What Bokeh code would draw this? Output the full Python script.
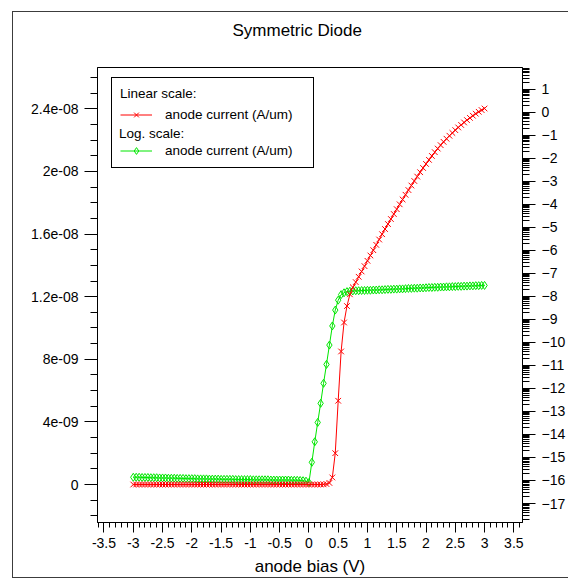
import math
from bokeh.plotting import figure
from bokeh.models import (LinearAxis, Range1d, SingleIntervalTicker, FixedTicker,
                          CustomJSTickFormatter, Legend, LegendItem, Title)
from bokeh.embed import file_html
from bokeh.resources import INLINE

FONT = "Liberation Sans"

# ---------------- data ----------------
anode_bias = [
    -3.00, -2.95, -2.90, -2.85, -2.80, -2.75, -2.70, -2.65, -2.60, -2.55,
    -2.50, -2.45, -2.40, -2.35, -2.30, -2.25, -2.20, -2.15, -2.10, -2.05,
    -2.00, -1.95, -1.90, -1.85, -1.80, -1.75, -1.70, -1.65, -1.60, -1.55,
    -1.50, -1.45, -1.40, -1.35, -1.30, -1.25, -1.20, -1.15, -1.10, -1.05,
    -1.00, -0.95, -0.90, -0.85, -0.80, -0.75, -0.70, -0.65, -0.60, -0.55,
    -0.50, -0.45, -0.40, -0.35, -0.30, -0.25, -0.20, -0.15, -0.10, -0.05,
    0.00, 0.05, 0.10, 0.15, 0.20, 0.25, 0.30, 0.35, 0.40, 0.45,
    0.50, 0.55, 0.60, 0.65, 0.70, 0.75, 0.80, 0.85, 0.90, 0.95,
    1.00, 1.05, 1.10, 1.15, 1.20, 1.25, 1.30, 1.35, 1.40, 1.45,
    1.50, 1.55, 1.60, 1.65, 1.70, 1.75, 1.80, 1.85, 1.90, 1.95,
    2.00, 2.05, 2.10, 2.15, 2.20, 2.25, 2.30, 2.35, 2.40, 2.45,
    2.50, 2.55, 2.60, 2.65, 2.70, 2.75, 2.80, 2.85, 2.90, 2.95,
    3.00,
]

# linear scale: anode current in units of 1e-9 A/um
anode_current_linear_nA = [
    0.00, 0.00, 0.00, 0.00, 0.00, 0.00, 0.00, 0.00, 0.00, 0.00,
    0.00, 0.00, 0.00, 0.00, 0.00, 0.00, 0.00, 0.00, 0.00, 0.00,
    0.00, 0.00, 0.00, 0.00, 0.00, 0.00, 0.00, 0.00, 0.00, 0.00,
    0.00, 0.00, 0.00, 0.00, 0.00, 0.00, 0.00, 0.00, 0.00, 0.00,
    0.00, 0.00, 0.00, 0.00, 0.00, 0.00, 0.00, 0.00, 0.00, 0.00,
    0.00, 0.00, 0.00, 0.00, 0.00, 0.00, 0.00, 0.00, 0.00, 0.00,
    0.00, 0.00, 0.00, 0.00, 0.00, 0.01, 0.03, 0.10, 0.45, 2.00,
    5.35, 8.50, 10.35, 11.40, 12.15, 12.60, 12.93, 13.27, 13.61, 13.95,
    14.29, 14.63, 14.97, 15.31, 15.65, 15.99, 16.32, 16.64, 16.96, 17.28,
    17.59, 17.90, 18.21, 18.51, 18.81, 19.10, 19.39, 19.67, 19.95, 20.22,
    20.48, 20.74, 20.99, 21.23, 21.46, 21.68, 21.89, 22.09, 22.28, 22.46,
    22.64, 22.81, 22.97, 23.13, 23.28, 23.42, 23.56, 23.69, 23.81, 23.92,
    24.02,
]

# log scale: log10 of anode current (A/um)
anode_current_log10 = [
    -15.86, -15.86, -15.86, -15.87, -15.87, -15.87, -15.88, -15.88, -15.88, -15.89,
    -15.89, -15.89, -15.90, -15.90, -15.90, -15.91, -15.91, -15.91, -15.92, -15.92,
    -15.92, -15.92, -15.93, -15.93, -15.93, -15.93, -15.94, -15.94, -15.94, -15.94,
    -15.95, -15.95, -15.95, -15.95, -15.95, -15.96, -15.96, -15.96, -15.96, -15.96,
    -15.96, -15.97, -15.97, -15.97, -15.97, -15.97, -15.97, -15.98, -15.98, -15.98,
    -15.98, -15.98, -15.98, -15.98, -15.99, -15.99, -15.99, -16.00, -16.01, -16.03,
    -16.09, -15.21, -14.32, -13.48, -12.65, -11.78, -10.96, -10.12, -9.29, -8.60,
    -8.17, -7.93, -7.85, -7.80, -7.78, -7.77, -7.76, -7.76, -7.75, -7.75,
    -7.74, -7.74, -7.73, -7.73, -7.72, -7.72, -7.71, -7.70, -7.70, -7.69,
    -7.69, -7.68, -7.68, -7.67, -7.66, -7.66, -7.65, -7.65, -7.64, -7.64,
    -7.63, -7.62, -7.62, -7.61, -7.61, -7.60, -7.60, -7.59, -7.59, -7.58,
    -7.58, -7.57, -7.57, -7.56, -7.56, -7.55, -7.55, -7.54, -7.54, -7.53,
    -7.53,
]

title_text = "Symmetric Diode"
x_label = "anode bias (V)"
legend_header_linear = "Linear scale:"
legend_header_log = "Log. scale:"
series_label = "anode current (A/um)"
log_decades = list(range(-17, 2))

RED = "#ff0000"
GREEN = "#00e600"
EDGE = "#3c3c3c"

# ---------------- figure ----------------
p = figure(width=568, height=578, output_backend="svg", toolbar_location=None,
           title=None,
           x_range=Range1d(-3.611, 3.648), y_range=Range1d(-2.427, 26.64),
           min_border_left=97, min_border_right=46, min_border_top=67,
           min_border_bottom=56)
# thin outer frame lines drawn behind the transparent canvas border
p.styles = {
    "background-image": (f"linear-gradient({EDGE}, {EDGE}), linear-gradient({EDGE}, {EDGE}), "
                         f"linear-gradient({EDGE}, {EDGE})"),
    "background-size": "100% 1px, 1px 100%, 100% 1px",
    "background-position": "12px 11px, 12px 11px, 12px 577px",
    "background-repeat": "no-repeat",
}
p.grid.visible = False
p.outline_line_color = "black"
p.outline_line_alpha = 1.0
p.background_fill_color = "white"
p.border_fill_alpha = 0.0

# spacer between frame and title, then the title (outermost)
p.add_layout(Title(text=" ", text_font=FONT, text_font_size="12px", standoff=7), "above")
p.add_layout(Title(text=title_text, align="left", offset=135, standoff=10,
                   text_font=FONT, text_font_size="17px", text_font_style="normal",
                   text_color="black"), "above")

p.extra_y_ranges = {"log": Range1d(-17.825, 1.934)}

def style_axis(ax, major_out, minor_out, standoff):
    ax.axis_line_color = "black"
    ax.major_tick_line_color = "black"
    ax.minor_tick_line_color = "black"
    ax.major_tick_in = 0
    ax.minor_tick_in = 0
    ax.major_tick_out = major_out
    ax.minor_tick_out = minor_out
    ax.major_label_text_font = FONT
    ax.major_label_text_font_size = "14px"
    ax.major_label_text_color = "black"
    ax.major_label_standoff = standoff

# bottom axis
xax = p.xaxis[0]
xax.ticker = SingleIntervalTicker(interval=0.5, num_minor_ticks=5)
xax.formatter = CustomJSTickFormatter(code="return String(Math.round(tick*10)/10);")
style_axis(xax, 10, 5, 5)
xax.axis_label = x_label
xax.axis_label_text_font = FONT
xax.axis_label_text_font_size = "17px"
xax.axis_label_text_font_style = "normal"
xax.axis_label_text_color = "black"
xax.axis_label_standoff = 6

# left axis (linear current)
yax = p.yaxis[0]
yax.ticker = SingleIntervalTicker(interval=4, num_minor_ticks=4)
yax.formatter = CustomJSTickFormatter(code=r"""
if (Math.abs(tick) < 1e-6) { return "0"; }
const v = parseFloat((tick * 1e-9).toPrecision(3));
return v.toExponential().replace(/e([+-])(\d)$/, function(m, a, b) { return "e" + a + "0" + b; });
""")
style_axis(yax, 13, 7, 6)

# right axis (log10 of current)
minor = [d + math.log10(k) for d in range(-18, 2) for k in range(2, 10)]
rax = LinearAxis(y_range_name="log",
                 ticker=FixedTicker(ticks=log_decades, minor_ticks=minor))
style_axis(rax, 13, 7, 6)
p.add_layout(rax, "right")

# ---------------- data glyphs ----------------
g_line = p.line(anode_bias, anode_current_log10, y_range_name="log",
                line_color=GREEN, line_width=1)
g_pts = p.scatter(anode_bias, anode_current_log10, y_range_name="log",
                  marker="diamond", size=8, line_color=GREEN, fill_color=None,
                  line_width=1)
r_line = p.line(anode_bias, anode_current_linear_nA, line_color=RED, line_width=1)
r_pts = p.scatter(anode_bias, anode_current_linear_nA, marker="x", size=8,
                  line_color=RED, line_width=1)
dummy = p.scatter(x=[], y=[], marker="x", size=1, alpha=0)

legend_common = dict(
    label_text_font=FONT, label_text_font_size="13.5px", label_text_color="black",
    title_text_font=FONT, title_text_font_size="13.5px", title_text_font_style="normal",
    title_text_color="black", title_standoff=5,
    glyph_width=32, glyph_height=17, label_height=17, label_standoff=13,
    spacing=1, margin=0,
)

legend_main = Legend(
    items=[LegendItem(label=series_label, renderers=[r_line, r_pts]),
           LegendItem(label=" ", renderers=[dummy]),
           LegendItem(label=series_label, renderers=[g_line, g_pts])],
    title=legend_header_linear, location=(14, 354), padding=8, label_width=140,
    border_line_color="black", border_line_width=1, border_line_alpha=1.0,
    background_fill_color="white", background_fill_alpha=1.0,
    **legend_common,
)
p.add_layout(legend_main)

legend_log_header = Legend(
    items=[LegendItem(label=" ", renderers=[dummy])],
    title=legend_header_log, location=(22, 359), padding=0,
    border_line_alpha=0.0, background_fill_alpha=0.0,
    **legend_common,
)
p.add_layout(legend_log_header)

open("out.html", "w").write(file_html(p, INLINE))
